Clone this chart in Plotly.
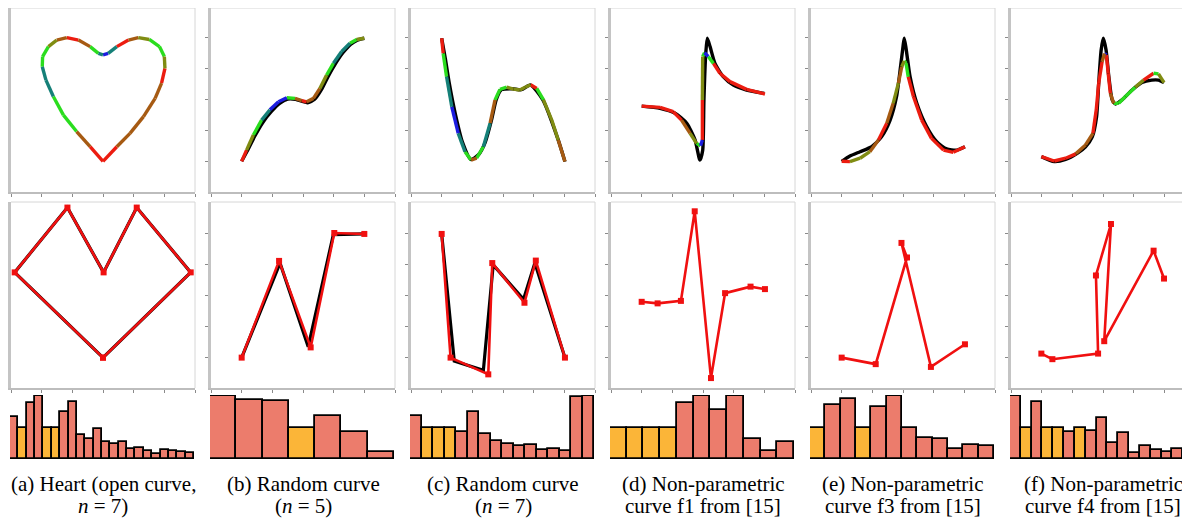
import plotly.graph_objects as go

# ---------------- DATA ----------------
# colour codes along the reconstructed curves
CMAP = {"R": "#ec1c10", "G": "#2add1e", "B": "#1c1ce0", "N": "#a65a12", "O": "#808c12", "T": "#158078"}

# (a) heart
a_curve_x = [3.0, 2.58, 2.14, 1.71, 1.38, 1.14, 1.02, 1.03, 1.22, 1.49, 1.82, 2.2, 2.58, 2.85, 3.0, 3.17, 3.45, 3.83, 4.15, 4.51, 4.84, 5.0, 5.02, 4.91, 4.7, 4.32, 3.88, 3.45, 3.0]
a_curve_y = [0.99, 1.46, 1.95, 2.48, 3.08, 3.61, 4.04, 4.37, 4.69, 4.9, 4.98, 4.9, 4.69, 4.47, 4.42, 4.47, 4.69, 4.9, 4.98, 4.92, 4.69, 4.37, 3.99, 3.51, 3.02, 2.43, 1.89, 1.46, 0.99]
a_curve_c = list("RNGGTTGGONRNGTBTRNOGGORNNNNRR")
a_ctrl_x = [3.0, 0.12, 1.84, 3.02, 4.1, 5.86, 3.0]
a_ctrl_y = [0.98, 3.73, 5.82, 3.73, 5.82, 3.73, 0.98]
a_true_x = a_ctrl_x
a_true_y = a_ctrl_y

# (b) random curve n=5
b_curve_x = [1.0, 1.16, 1.38, 1.65, 1.92, 2.2, 2.47, 2.74, 2.96, 3.12, 3.34, 3.55, 3.77, 3.99, 4.26, 4.53, 4.75, 5.0]
b_curve_y = [0.99, 1.35, 1.84, 2.32, 2.65, 2.91, 3.04, 3.02, 2.95, 2.91, 3.02, 3.34, 3.77, 4.15, 4.53, 4.8, 4.92, 4.96]
b_curve_c = list("ROGTBBGNRNNOGTTGOR")
b_black_x = [1.0, 1.18, 1.42, 1.7, 1.97, 2.25, 2.5, 2.76, 2.98, 3.15, 3.38, 3.6, 3.82, 4.04, 4.3, 4.56, 4.77, 5.0]
b_black_y = [0.99, 1.32, 1.79, 2.26, 2.6, 2.87, 3.0, 2.99, 2.92, 2.88, 2.99, 3.3, 3.73, 4.11, 4.49, 4.77, 4.9, 4.96]
b_ctrl_x = [1.0, 2.22, 3.25, 4.02, 5.0]
b_ctrl_y = [0.98, 4.1, 1.31, 5.0, 4.97]
b_true_x = [1.0, 2.25, 3.17, 3.99, 5.0]
b_true_y = [0.98, 4.03, 1.33, 4.95, 4.97]

# (c) random curve n=7
c_curve_x = [1.0, 1.05, 1.16, 1.33, 1.54, 1.76, 1.96, 2.14, 2.36, 2.58, 2.74, 2.9, 3.12, 3.34, 3.55, 3.72, 3.9, 4.1, 4.32, 4.59, 4.8, 5.02]
c_curve_y = [4.96, 4.47, 3.72, 2.75, 1.89, 1.3, 1.03, 1.09, 1.46, 2.22, 2.97, 3.31, 3.38, 3.32, 3.29, 3.38, 3.46, 3.34, 2.97, 2.32, 1.68, 0.98]
c_curve_c = list("RGTBTGNGTNGGOOOORGOONR")
c_black_x = [1.0, 1.12, 1.25, 1.45, 1.68, 1.95, 2.2, 2.42, 2.62, 2.78, 2.95, 3.3, 3.6, 3.9, 4.3, 4.8, 5.02]
c_black_y = [4.96, 4.3, 3.5, 2.5, 1.6, 1.05, 1.2, 1.6, 2.3, 2.98, 3.3, 3.33, 3.3, 3.45, 2.97, 1.68, 0.98]
c_ctrl_x = [1.0, 1.29, 2.52, 2.65, 3.7, 4.07, 5.02]
c_ctrl_y = [4.97, 0.98, 0.44, 4.03, 2.75, 4.11, 0.98]
c_true_x = [1.0, 1.41, 2.36, 2.68, 3.67, 4.04, 5.02]
c_true_y = [4.97, 0.87, 0.57, 3.97, 2.86, 4.03, 0.98]

# (d) non-parametric f1
d_curve_x = [1.0, 1.6, 2.03, 2.3, 2.58, 2.79, 2.92, 2.98, 2.98, 2.99, 3.05, 3.17, 3.34, 3.55, 3.88, 4.42, 5.02]
d_curve_y = [2.77, 2.73, 2.59, 2.32, 1.89, 1.57, 1.49, 1.68, 2.97, 4.37, 4.49, 4.37, 4.15, 3.83, 3.56, 3.31, 3.16]
d_curve_c = list("RRRNOGBROGBGRRRRR")
d_black_x = [1.0, 1.6, 2.09, 2.47, 2.74, 2.9, 2.99, 3.03, 3.09, 3.14, 3.23, 3.39, 3.66, 3.99, 4.42, 5.0]
d_black_y = [2.77, 2.7, 2.54, 2.22, 1.68, 1.03, 1.35, 2.97, 4.47, 4.96, 4.69, 4.15, 3.72, 3.45, 3.29, 3.18]
d_ctrl_x = [1.0, 1.52, 2.28, 2.73, 3.26, 3.72, 4.55, 5.02]
d_ctrl_y = [2.78, 2.73, 2.81, 5.7, 0.32, 3.06, 3.27, 3.19]

# (e) non-parametric f3
e_curve_x = [1.0, 1.27, 1.6, 1.92, 2.2, 2.47, 2.68, 2.85, 2.96, 3.04, 3.1, 3.17, 3.34, 3.61, 3.93, 4.32, 4.64, 5.02]
e_curve_y = [0.99, 0.98, 1.09, 1.3, 1.68, 2.22, 2.86, 3.51, 4.04, 4.23, 4.15, 3.72, 3.08, 2.32, 1.73, 1.35, 1.28, 1.46]
e_curve_c = list("ROONRNONOGGRRRRRRR")
e_black_x = [1.0, 1.27, 1.6, 1.98, 2.3, 2.58, 2.79, 2.92, 3.0, 3.04, 3.1, 3.23, 3.45, 3.77, 4.1, 4.42, 4.75, 5.02]
e_black_y = [0.99, 1.16, 1.3, 1.46, 1.78, 2.32, 3.08, 4.04, 4.69, 4.96, 4.63, 3.72, 2.86, 2.11, 1.62, 1.39, 1.35, 1.46]
e_ctrl_x = [1.0, 2.11, 3.13, 2.95, 3.91, 5.02]
e_ctrl_y = [0.98, 0.77, 4.21, 4.68, 0.68, 1.41]

# (f) non-parametric f4
f_curve_x = [0.99, 1.41, 1.78, 2.11, 2.43, 2.67, 2.78, 2.86, 2.97, 3.05, 3.11, 3.17, 3.24, 3.35, 3.51, 3.73, 4.05, 4.32, 4.65, 4.81, 4.99]
f_curve_y = [1.14, 1.0, 1.09, 1.23, 1.52, 1.89, 2.65, 3.51, 4.2, 4.47, 4.42, 3.83, 3.18, 2.86, 2.86, 3.08, 3.38, 3.61, 3.83, 3.81, 3.53]
f_curve_c = list("RRRNNRRRNBRRNGGGORGOR")
f_black_x = [0.99, 1.41, 1.78, 2.16, 2.43, 2.65, 2.79, 2.86, 2.94, 3.01, 3.1, 3.19, 3.3, 3.41, 3.62, 3.95, 4.27, 4.59, 4.81, 4.99]
f_black_y = [1.14, 0.98, 1.05, 1.25, 1.46, 1.78, 2.43, 3.51, 4.58, 4.96, 4.58, 3.72, 2.97, 2.84, 2.97, 3.29, 3.53, 3.61, 3.61, 3.53]
f_ctrl_x = [0.99, 1.35, 2.84, 2.77, 3.26, 3.04, 4.65, 4.99]
f_ctrl_y = [1.11, 0.93, 1.11, 3.63, 5.29, 1.51, 4.43, 3.53]

# histograms (bar heights) and bar kinds (S = salmon, Y = orange)
a_hist = [120, 89, 162, 182, 89, 89, 135, 164, 70, 57, 85, 48, 44, 48, 29, 31, 24, 15, 26, 22, 19, 16]
a_kind = list("SYSSYYSSSSSSSSSSSSSSSS")
b_hist = [182, 169, 167, 89, 124, 77, 21]
b_kind = list("SSSYSSS")
c_hist = [124, 89, 89, 89, 77, 135, 72, 52, 42, 37, 39, 27, 29, 24, 179, 182]
c_kind = list("SYYYSSSSSSSSSSSS")
d_hist = [89, 89, 89, 89, 160, 182, 140, 182, 57, 23, 50]
d_kind = list("YYYYSSSSSSS")
e_hist = [89, 155, 172, 89, 150, 182, 90, 59, 57, 29, 40, 37]
e_kind = list("YSSYSSSSSSSS")
f_hist = [182, 89, 163, 89, 89, 77, 89, 80, 117, 47, 74, 17, 37, 27, 19, 29, 22]
f_kind = list("SYSYYSYSSSSSSSSSS")

captions = [
    ("(a) Heart (open curve,", "<i>n</i> = 7)"),
    ("(b) Random curve", "(<i>n</i> = 5)"),
    ("(c) Random curve", "(<i>n</i> = 7)"),
    ("(d) Non-parametric", "curve f1 from [15]"),
    ("(e) Non-parametric", "curve f3 from [15]"),
    ("(f) Non-parametric", "curve f4 from [15]"),
]

# ---------------- LAYOUT ----------------
OFF = 8                      # page margin of the html body
W, H = 1190 - OFF, 522 - OFF
COLS = [(11, 195), (211, 395), (411, 595), (611, 795), (811, 995), (1011, 1195)]
TOP = (6, 192)
MID = (202, 388)
HIST = (395, 459)
BAR_COL = {"S": "#ec7c6c", "Y": "#fbb538"}


def clamp(v):
    return max(0.0, min(1.0, v))


def fx(px):
    return (px - OFF) / W


def fy(py):
    return 1 - (py - OFF) / H


fig = go.Figure()
layout = {}
shapes = []
annotations = []

panels = [
    dict(cx=a_curve_x, cy=a_curve_y, cc=a_curve_c, bx=None, by=None, px=a_ctrl_x, py=a_ctrl_y, tx=a_true_x, ty=a_true_y, h=a_hist, k=a_kind),
    dict(cx=b_curve_x, cy=b_curve_y, cc=b_curve_c, bx=b_black_x, by=b_black_y, px=b_ctrl_x, py=b_ctrl_y, tx=b_true_x, ty=b_true_y, h=b_hist, k=b_kind),
    dict(cx=c_curve_x, cy=c_curve_y, cc=c_curve_c, bx=c_black_x, by=c_black_y, px=c_ctrl_x, py=c_ctrl_y, tx=c_true_x, ty=c_true_y, h=c_hist, k=c_kind),
    dict(cx=d_curve_x, cy=d_curve_y, cc=d_curve_c, bx=d_black_x, by=d_black_y, px=d_ctrl_x, py=d_ctrl_y, tx=None, ty=None, h=d_hist, k=d_kind),
    dict(cx=e_curve_x, cy=e_curve_y, cc=e_curve_c, bx=e_black_x, by=e_black_y, px=e_ctrl_x, py=e_ctrl_y, tx=None, ty=None, h=e_hist, k=e_kind),
    dict(cx=f_curve_x, cy=f_curve_y, cc=f_curve_c, bx=f_black_x, by=f_black_y, px=f_ctrl_x, py=f_ctrl_y, tx=None, ty=None, h=f_hist, k=f_kind),
]

axn = 0


def new_axes(x0, x1, y0, y1, xr, yr, framed):
    """x0..x1, y0..y1 are reference pixels; the visible part is clipped to the page."""
    global axn
    axn += 1
    sx = "" if axn == 1 else str(axn)
    vx1 = min(x1, 1190)
    vy0 = max(y0, OFF)
    xr = [xr[0], xr[0] + (xr[1] - xr[0]) * (vx1 - x0) / (x1 - x0)]
    yr = [yr[0], yr[0] + (yr[1] - yr[0]) * (y1 - vy0) / (y1 - y0)]
    common = dict(showgrid=False, zeroline=False, showticklabels=False, fixedrange=True)
    xa = dict(domain=[clamp(fx(x0)), clamp(fx(vx1))], range=xr, anchor="y" + sx, **common)
    ya = dict(domain=[clamp(fy(y1)), clamp(fy(vy0))], range=yr, anchor="x" + sx, **common)
    if framed:
        xa.update(showline=True, linecolor="#bdbdbd", linewidth=2, ticks="outside", ticklen=3,
                  tickcolor="#8a8a8a", tickwidth=1, tickvals=[0, 1, 2, 3, 4, 5, 6])
        ya.update(showline=True, linecolor="#c4c4c4", linewidth=2.5, ticks="outside", ticklen=3,
                  tickcolor="#8a8a8a", tickwidth=1, tickvals=[1, 2, 3, 4, 5])
    else:
        xa.update(showline=False, ticks="")
        ya.update(showline=False, ticks="")
    layout["xaxis" + sx] = xa
    layout["yaxis" + sx] = ya
    return "x" + sx, "y" + sx


for i, p in enumerate(panels):
    x0, x1 = COLS[i]
    # ---- top: curve
    xa, ya = new_axes(x0, x1, TOP[0], TOP[1], [0, 6], [0, 6], True)
    if p["bx"] is not None:
        fig.add_trace(go.Scatter(x=p["bx"], y=p["by"], mode="lines", xaxis=xa, yaxis=ya,
                                 line=dict(color="black", width=3.4, shape="spline", smoothing=0.6),
                                 hoverinfo="skip", showlegend=False))
    for code, col in CMAP.items():
        xs, ys = [], []
        for j in range(len(p["cx"]) - 1):
            if p["cc"][j] == code:
                xs += [p["cx"][j], p["cx"][j + 1], None]
                ys += [p["cy"][j], p["cy"][j + 1], None]
        if xs:
            fig.add_trace(go.Scatter(x=xs, y=ys, mode="lines", xaxis=xa, yaxis=ya,
                                     line=dict(color=col, width=3.4), hoverinfo="skip", showlegend=False))
    # ---- middle: control polygon
    xa, ya = new_axes(x0, x1, MID[0], MID[1], [0, 6], [0, 6], True)
    if p["tx"] is not None:
        fig.add_trace(go.Scatter(x=p["tx"], y=p["ty"], mode="lines", xaxis=xa, yaxis=ya,
                                 line=dict(color="black", width=3.2), hoverinfo="skip", showlegend=False))
    fig.add_trace(go.Scatter(x=p["px"], y=p["py"], mode="lines+markers", xaxis=xa, yaxis=ya,
                             line=dict(color="#f01010", width=2.6),
                             marker=dict(symbol="square", size=6, color="#f01010"),
                             hoverinfo="skip", showlegend=False))
    for (yy0, yy1) in (TOP, MID):
        shapes.append(dict(type="line", xref="paper", yref="paper", x0=clamp(fx(x0)), x1=clamp(fx(x1)),
                           y0=clamp(fy(yy0)), y1=clamp(fy(yy0)), line=dict(color="#d6d6d6", width=1)))
        if x1 < 1190:
            shapes.append(dict(type="line", xref="paper", yref="paper", x0=fx(x1), x1=fx(x1),
                               y0=clamp(fy(yy0)), y1=fy(yy1), line=dict(color="#d6d6d6", width=1)))
    # ---- bottom: histogram
    n = len(p["h"])
    xa, ya = new_axes(x0 - 1, x1 - 1, HIST[0], HIST[1], [-0.5, n - 0.5], [0, 184], False)
    fig.add_trace(go.Bar(x=list(range(n)), y=p["h"], width=1, xaxis=xa, yaxis=ya,
                         marker=dict(color=[BAR_COL[k] for k in p["k"]], line=dict(color="black", width=1.8)),
                         hoverinfo="skip", showlegend=False))
    # ---- caption
    cxm = (x0 + x0 + 184) / 2
    for li, txt in enumerate(captions[i]):
        annotations.append(dict(text=txt, x=fx(cxm), y=fy(484 + li * 22), xref="paper", yref="paper",
                                showarrow=False, xanchor="center", yanchor="middle",
                                font=dict(family="Liberation Serif, Times New Roman, serif", size=21, color="black")))

layout.update(width=W, height=H, margin=dict(l=0, r=0, t=0, b=0), plot_bgcolor="rgba(0,0,0,0)",
              paper_bgcolor="white", bargap=0, showlegend=False, shapes=shapes, annotations=annotations)
fig.update_layout(**layout)
fig.write_html("out.html")
